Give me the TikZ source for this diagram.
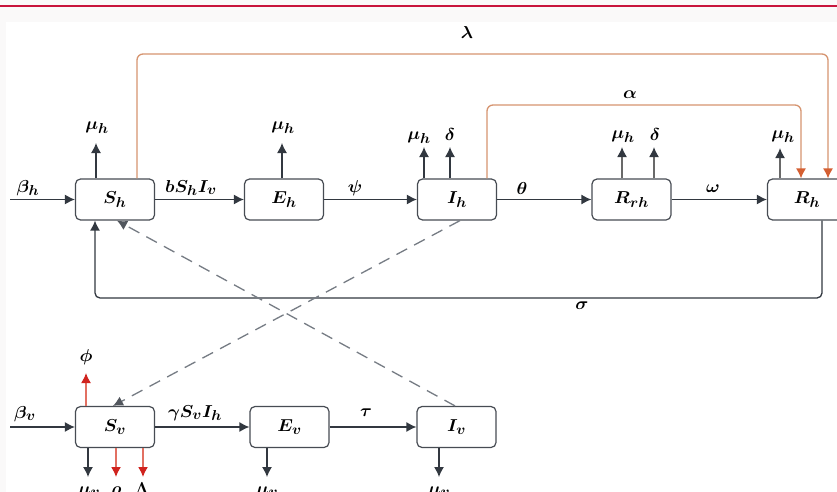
\documentclass[tikz,border=0pt]{standalone}
\usetikzlibrary{arrows.meta}
\DeclareMathSizes{17.28}{17.28}{14.4}{12}
\definecolor{dk}{RGB}{50,56,64}
\definecolor{gr}{RGB}{105,105,105}
\definecolor{orl}{RGB}{214,148,112}
\definecolor{orh}{RGB}{212,95,50}
\definecolor{rdl}{RGB}{226,112,98}
\definecolor{rdh}{RGB}{208,35,30}
\definecolor{dsh}{RGB}{118,124,132}
\definecolor{topline}{RGB}{200,20,60}
\definecolor{bgc}{RGB}{250,249,249}
\newcommand{\tx}[1]{\scalebox{1.05}[1]{$#1$}}
\begin{document}
\begin{tikzpicture}[x=1pt,y=-1pt,font=\fontsize{17.28}{20}\selectfont\boldmath,
  box/.style={draw=dk!90,line width=1.2pt,rounded corners=5pt,minimum width=79pt,minimum height=41pt,inner sep=0pt,fill=white},
  arr/.style={draw=dk,line width=1.3pt,-{Latex[length=10pt,width=10pt]}},
  garr/.style={draw=gr,line width=1.5pt,-{Latex[length=10pt,width=10pt,color=dk]}},
  oarr/.style={draw=orl,line width=1.3pt,rounded corners=6pt,-{Latex[length=10pt,width=10pt,color=orh]}},
  rarr/.style={draw=rdl,line width=1.5pt,-{Latex[length=10pt,width=10pt,color=rdh]}},
  darr/.style={draw=dsh,line width=1.3pt,dash pattern=on 12pt off 8pt,-{Latex[length=10pt,width=10pt,color=dk!85]}},
  lbl/.style={inner sep=0pt}]
\useasboundingbox (0,0) rectangle (837,492);
\fill[bgc] (0,0) rectangle (837,492);
\fill[white] (6,22) rectangle (837,492);
\draw[topline,line width=1.5pt] (0,6) -- (837,6);

% boxes
\node[box] (Sh) at (115,199.5) {\tx{S_h}};
\node[box] (Eh) at (284,199.5) {\tx{E_h}};
\node[box] (Ih) at (457,199.5) {\tx{I_h}};
\node[box] (Rrh) at (631.5,199.5) {\tx{R_{rh}}};
\node[box] (Rh) at (807,199.5) {\tx{R_h}};
\node[box] (Sv) at (115,427) {\tx{S_v}};
\node[box] (Ev) at (289.5,427) {\tx{E_v}};
\node[box] (Iv) at (456.5,427) {\tx{I_v}};

% orange loops
\coordinate (lL) at (137,54);
\coordinate (lR) at (828,54);
\draw[oarr] (Sh.north -| lL) -- (lL) -- (lR) -- (Rh.north -| lR);
\coordinate (aL) at (487,105);
\coordinate (aR) at (801,105);
\draw[oarr] (Ih.north -| aL) -- (aL) -- (aR) -- (Rh.north -| aR);
\node[lbl] (lam) at (467,33) {\tx{\lambda}};
\node[lbl] (alp) at (630,95) {\tx{\alpha}};

% sigma loop
\coordinate (sR) at (822,298);
\coordinate (sL) at (95,298);
\draw[arr,rounded corners=5pt] (Rh.south -| sR) -- (sR) -- (sL) -- (Sh.south -| sL);
\node[lbl] (sig) at (582,306) {\tx{\sigma}};

% top row flows
\coordinate (inh) at (10,199.5);
\draw[arr] (inh) -- (Sh);
\draw[arr] (Sh) -- (Eh);
\draw[arr] (Eh) -- (Ih);
\draw[arr] (Ih) -- (Rrh);
\draw[arr] (Rrh) -- (Rh);
\node[lbl] (bh) at (28,188) {\tx{\beta_h}};
\node[lbl] (inf) at (191,188) {\tx{bS_hI_v}};
\node[lbl] (psi) at (355,188) {\tx{\psi}};
\node[lbl] (the) at (522,188) {\tx{\theta}};
\node[lbl] (ome) at (713,189) {\tx{\omega}};

% deaths top
\coordinate (t1) at (96,143);
\coordinate (t2) at (282,143);
\coordinate (t3) at (424,147);
\coordinate (t4) at (450,147);
\coordinate (t5) at (622,147);
\coordinate (t6) at (654,147);
\coordinate (t7) at (780,148);
\draw[arr] (Sh.north -| t1) -- (t1);
\draw[arr] (Eh.north -| t2) -- (t2);
\draw[arr] (Ih.north -| t3) -- (t3);
\draw[arr] (Ih.north -| t4) -- (t4);
\draw[garr] (Rrh.north -| t5) -- (t5);
\draw[garr] (Rrh.north -| t6) -- (t6);
\draw[garr] (Rh.north -| t7) -- (t7);
\node[lbl] (m1) at (97,128) {\tx{\mu_h}};
\node[lbl] (m2) at (283,128) {\tx{\mu_h}};
\node[lbl] (m3) at (419,138) {\tx{\mu_h}};
\node[lbl] (d3) at (450,134) {\tx{\delta}};
\node[lbl] (m5) at (623,137) {\tx{\mu_h}};
\node[lbl] (d5) at (655,134) {\tx{\delta}};
\node[lbl] (m7) at (783,137) {\tx{\mu_h}};

% dashed infection links
\draw[darr] ([xshift=3pt]Ih.south) -- ([xshift=-2pt]Sv.north);
\draw[darr] ([xshift=-1.5pt]Iv.north) -- ([xshift=2pt]Sh.south);

% bottom row flows
\coordinate (inv) at (10,427);
\draw[arr] (inv) -- (Sv);
\draw[arr] (Sv) -- (Ev);
\draw[arr] (Ev) -- (Iv);
\node[lbl] (bv) at (25,414) {\tx{\beta_v}};
\node[lbl] (gam) at (195,413) {\tx{\gamma S_vI_h}};
\node[lbl] (tau) at (366,413) {\tx{\tau}};

% phi
\coordinate (ph) at (86,373);
\draw[rarr] (Sv.north -| ph) -- (ph);
\node[lbl] (phl) at (86,357) {\tx{\phi}};

% bottom outflows
\coordinate (b1) at (88,477);
\coordinate (b2) at (116,477);
\coordinate (b3) at (143,477);
\coordinate (b4) at (267,477);
\coordinate (b5) at (439,477);
\draw[arr] (Sv.south -| b1) -- (b1);
\draw[rarr] (Sv.south -| b2) -- (b2);
\draw[rarr] (Sv.south -| b3) -- (b3);
\draw[arr] (Ev.south -| b4) -- (b4);
\draw[arr] (Iv.south -| b5) -- (b5);
\node[lbl,anchor=base] (mv1) at (89,494) {\tx{\mu_v}};
\node[lbl,anchor=base] (rho) at (116,494) {\tx{\rho}};
\node[lbl,anchor=base] (Lam) at (142,494) {\tx{\Lambda}};
\node[lbl,anchor=base] (mv2) at (267,494) {\tx{\mu_v}};
\node[lbl,anchor=base] (mv3) at (439,494) {\tx{\mu_v}};
\end{tikzpicture}
\end{document}
